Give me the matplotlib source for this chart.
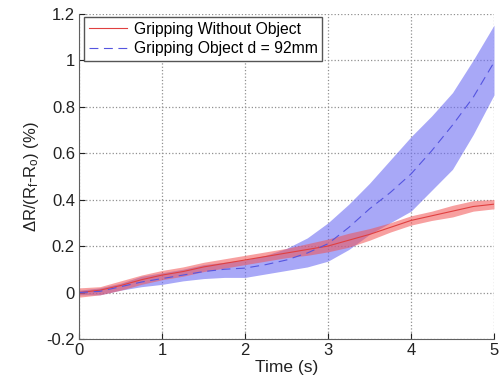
import matplotlib
matplotlib.use('Agg')
import matplotlib.pyplot as plt

plt.rcParams['font.family'] = ['Liberation Sans', 'DejaVu Sans']
plt.rcParams['mathtext.fontset'] = 'custom'
plt.rcParams['mathtext.rm'] = 'Liberation Sans'
plt.rcParams['mathtext.it'] = 'Liberation Sans'

# time samples (s)
t = [0, 0.25, 0.5, 0.75, 1, 1.25, 1.5, 1.75, 2, 2.25, 2.5, 2.75,
     3, 3.25, 3.5, 3.75, 4, 4.25, 4.5, 4.75, 5]

# gripping without object: mean and band
red_mean = [0, 0.01, 0.03, 0.055, 0.075, 0.09, 0.11, 0.125, 0.14, 0.155, 0.17, 0.185,
            0.20, 0.225, 0.25, 0.28, 0.31, 0.33, 0.35, 0.37, 0.38]
red_upper = [0.02, 0.025, 0.05, 0.075, 0.095, 0.11, 0.13, 0.145, 0.16, 0.175, 0.19, 0.21,
             0.23, 0.255, 0.275, 0.30, 0.33, 0.35, 0.375, 0.395, 0.40]
red_lower = [-0.02, -0.01, 0.01, 0.035, 0.055, 0.07, 0.09, 0.105, 0.12, 0.135, 0.15, 0.16,
             0.175, 0.195, 0.225, 0.26, 0.29, 0.31, 0.325, 0.35, 0.36]

# gripping object d = 92mm: mean and band
blue_mean = [0, 0.005, 0.025, 0.045, 0.06, 0.075, 0.09, 0.10, 0.105, 0.12, 0.14, 0.17,
             0.21, 0.28, 0.36, 0.43, 0.51, 0.61, 0.72, 0.84, 0.99]
blue_upper = [0.01, 0.02, 0.04, 0.07, 0.085, 0.10, 0.12, 0.13, 0.14, 0.16, 0.19, 0.235,
              0.30, 0.38, 0.47, 0.57, 0.67, 0.76, 0.86, 1.0, 1.15]
blue_lower = [-0.01, -0.01, 0.01, 0.025, 0.035, 0.05, 0.06, 0.065, 0.065, 0.08, 0.095, 0.11,
              0.135, 0.185, 0.25, 0.30, 0.35, 0.44, 0.53, 0.68, 0.85]

fig = plt.figure(figsize=(5.01, 3.87), dpi=100)
ax = fig.add_axes([0.158, 0.124, 0.828, 0.841])

ax.fill_between(t, blue_lower, blue_upper, color='#6e6ef3', alpha=0.6, linewidth=0)
ax.fill_between(t, red_lower, red_upper, color='#f25252', alpha=0.55, linewidth=0)
ax.plot(t, red_mean, color='#e04040', lw=0.8, label='Gripping Without Object')
ax.plot(t, blue_mean, color='#5555e0', lw=0.8, ls=(0, (8, 5)), label='Gripping Object d = 92mm')

ax.set_xlim(0, 5)
ax.set_ylim(-0.2, 1.2)
ax.set_xticks([0, 1, 2, 3, 4, 5])
ax.set_yticks([-0.2, 0, 0.2, 0.4, 0.6, 0.8, 1, 1.2])
ax.set_yticklabels(['-0.2', '0', '0.2', '0.4', '0.6', '0.8', '1', '1.2'])
ax.grid(True, ls=':', color='#909090', lw=0.9)
ax.set_axisbelow(True)
for s in ['top', 'right']:
    ax.spines[s].set_visible(False)
for s in ['left', 'bottom']:
    ax.spines[s].set_color('#606060')
ax.tick_params(direction='in', length=4, labelsize=12, colors='#222222', pad=3)

ax.set_xlabel('Time (s)', fontsize=12.5, color='#222222', labelpad=1)
ax.set_ylabel(r'$\Delta$R/(R$_\mathregular{f}$-R$_\mathregular{o}$) (%)', fontsize=12,
              color='#222222', labelpad=4)

ax.legend(loc='upper left', bbox_to_anchor=(0.012, 0.99), borderaxespad=0,
          fontsize=11.3, fancybox=False, framealpha=1, edgecolor='#555555',
          handlelength=2.4, handletextpad=0.45, labelspacing=0.3, borderpad=0.3)

fig.savefig('out.png', dpi=100)
